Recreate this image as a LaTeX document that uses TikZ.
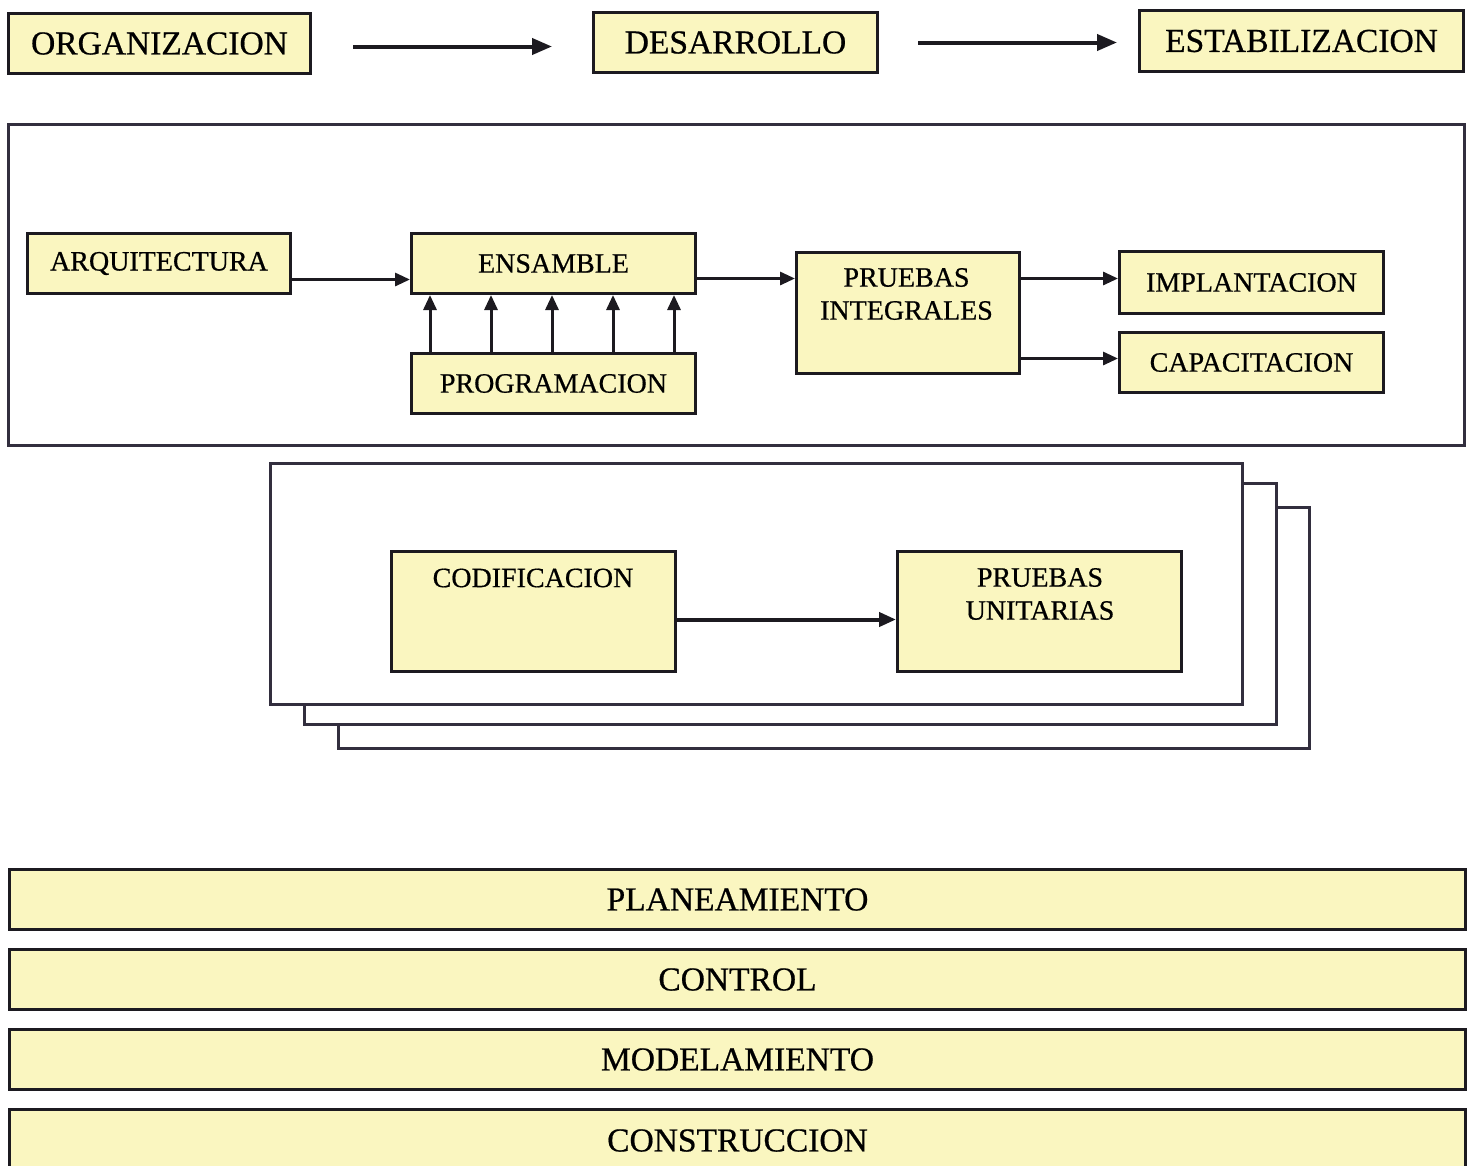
\documentclass[tikz,border=0pt]{standalone}
\usepackage{fontspec}
\setmainfont[FakeBold=0.6]{Liberation Serif}
\usetikzlibrary{arrows.meta}
\definecolor{boxfill}{RGB}{250,246,192}
\definecolor{edgec}{RGB}{28,26,32}
\definecolor{framec}{RGB}{50,46,62}
\newcommand\lblbig{\fontsize{33.5}{38}\selectfont}
\newcommand\lblmid{\fontsize{28}{33}\selectfont}
\tikzset{
  box/.style={draw=edgec, line width=3pt, fill=boxfill, inner sep=0pt,
    anchor=north west, font=\lblmid},
  bigbox/.style={box, font=\lblbig},
  frame/.style={draw=framec, line width=2.5pt, fill=white, inner sep=0pt, anchor=north west},
  lbl/.style={font=\lblmid, align=center, inner sep=0pt},
  toparr/.style={draw=edgec, line width=4pt, -{Triangle[length=20pt,width=16pt]}},
  arr/.style={draw=edgec, line width=3pt, -{Triangle[length=15pt,width=13pt]}},
  codarr/.style={draw=edgec, line width=4pt, -{Triangle[length=17pt,width=14pt]}},
}
\begin{document}
\begin{tikzpicture}[x=1pt,y=-1pt]
\useasboundingbox (0,0) rectangle (1469,1165);
\clip (0,0) rectangle (1469,1165);

% phases
\node[bigbox, minimum width=302pt, minimum height=60pt] (org) at (7,12) {ORGANIZACION};
\node[bigbox, minimum width=284pt, minimum height=60pt] (des) at (592,11) {DESARROLLO};
\node[bigbox, minimum width=324pt, minimum height=61pt] (est) at (1138,9) {ESTABILIZACION};
\draw[toparr, shorten <=41pt, shorten >=40pt] ([yshift=-3pt]org.east) -- ([yshift=-3pt]org.east -| des.west);
\draw[toparr, shorten <=39pt, shorten >=21pt] (des.east) -- (des.east -| est.west);

% development frame
\node[frame, minimum width=1456pt, minimum height=321pt] (dev) at (7,123) {};
\node[box, minimum width=263pt, minimum height=60pt] (arq) at (26,232) {ARQUITECTURA};
\node[box, minimum width=284pt, minimum height=60pt] (ens) at (410,232) {ENSAMBLE};
\node[box, minimum width=284pt, minimum height=60pt] (prog) at (410,352) {PROGRAMACION};
\node[box, minimum width=223pt, minimum height=121pt] (pi) at (795,251) {};
\node[lbl] (pitxt) at (906.5,294) {PRUEBAS\\INTEGRALES};
\node[box, minimum width=264pt, minimum height=62pt] (impl) at (1118,250) {IMPLANTACION};
\node[box, minimum width=264pt, minimum height=60pt] (cap) at (1118,331) {CAPACITACION};

\draw[arr] ([yshift=-16pt]arq.east) -- ([yshift=-16pt]arq.east -| ens.west);
\foreach \dx in {20,81,142,203,264}
  \draw[arr] ([xshift=\dx pt]prog.north west) -- ([xshift=\dx pt]ens.south west);
\draw[arr] ([yshift=-15pt]ens.east) -- ([yshift=-15pt]ens.east -| pi.west);
\draw[arr] ([yshift=4pt]impl.west -| pi.east) -- ([yshift=4pt]impl.west);
\draw[arr] ([yshift=4pt]cap.west -| pi.east) -- ([yshift=4pt]cap.west);

% iteration frames
\node[frame, minimum width=971pt, minimum height=241pt] (it3) at (337,506) {};
\node[frame, minimum width=972pt, minimum height=241pt] (it2) at (303,482) {};
\node[frame, minimum width=972pt, minimum height=241pt] (it1) at (269,462) {};
\node[box, minimum width=284pt, minimum height=120pt] (cod) at (390,550) {};
\node[lbl] (codtxt) at (533,578) {CODIFICACION};
\node[box, minimum width=284pt, minimum height=120pt] (pu) at (896,550) {};
\node[lbl] (putxt) at (1040,594) {PRUEBAS\\UNITARIAS};
\draw[codarr] ([yshift=-8pt]cod.east) -- ([yshift=-8pt]cod.east -| pu.west);

% cross-cutting disciplines
\node[bigbox, minimum width=1456pt, minimum height=60pt] (plan) at (8,868) {PLANEAMIENTO};
\node[bigbox, minimum width=1456pt, minimum height=60pt] (ctrl) at (8,948) {CONTROL};
\node[bigbox, minimum width=1456pt, minimum height=60pt] (mod) at (8,1028) {MODELAMIENTO};
\node[bigbox, minimum width=1456pt, minimum height=62pt] (cons) at (8,1108) {CONSTRUCCION};
\end{tikzpicture}
\end{document}
